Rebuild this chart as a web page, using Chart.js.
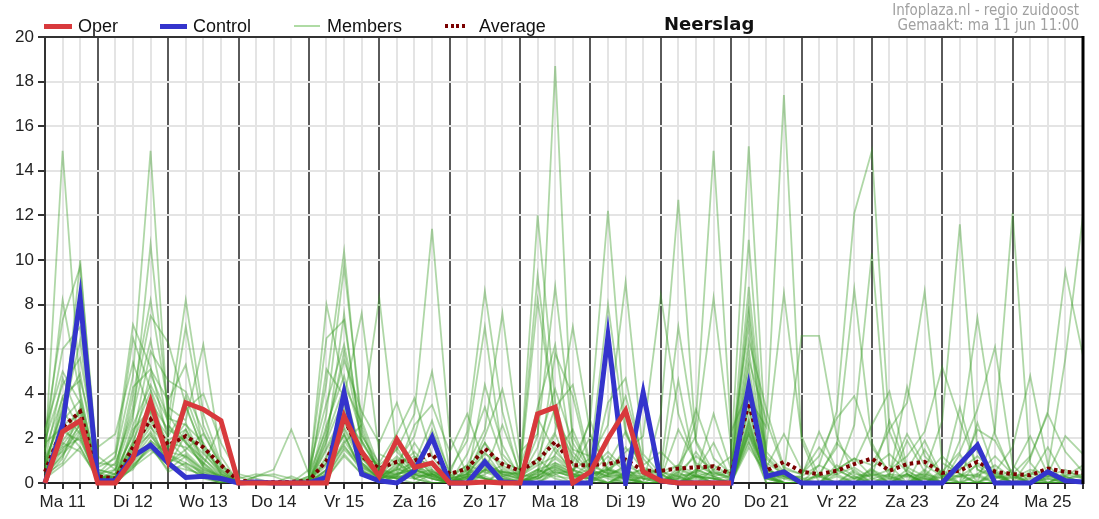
<!DOCTYPE html>
<html>
<head>
<meta charset="utf-8">
<script src="https://cdn.jsdelivr.net/npm/chart.js@4.4.0/dist/chart.umd.min.js"></script>
<style>
  html, body { margin: 0; padding: 0; background: #fff; }
  #wrap { position: relative; width: 1099px; height: 519px; overflow: hidden; }
  #wrap canvas { position: absolute; left: 0; top: 0; }
  .lgText { position: absolute; top: 17px; font: 18px "Liberation Sans", Arial, sans-serif; line-height: 18px; color: #111; white-space: nowrap; }
  .lgLine { position: absolute; }
  #title { position: absolute; left: 664px; top: 15px; font: bold 18px "DejaVu Sans", sans-serif; line-height: 18px; color: #111; }
  .info { position: absolute; right: 20px; font: 15px "DejaVu Sans Condensed", "DejaVu Sans", sans-serif; font-stretch: condensed; line-height: 15px; color: #a0a0a0; white-space: nowrap; }
</style>
</head>
<body>
<div id="wrap">
  <canvas id="chart" width="1099" height="519"></canvas>
  <div class="lgLine" style="left:44px;top:24px;width:28px;height:5px;background:#d8393c;"></div>
  <div class="lgText" style="left:78px;">Oper</div>
  <div class="lgLine" style="left:160px;top:24px;width:27px;height:5px;background:#3434cc;"></div>
  <div class="lgText" style="left:193px;">Control</div>
  <div class="lgLine" style="left:294px;top:25px;width:26px;height:2px;background:rgba(110,190,90,0.55);"></div>
  <div class="lgText" style="left:327px;">Members</div>
  <div class="lgLine" style="left:445px;top:24px;width:20px;height:4px;background:repeating-linear-gradient(to right,#7a0000 0 3px,transparent 3px 5.5px);"></div>
  <div class="lgText" style="left:479px;">Average</div>
  <div id="title">Neerslag</div>
  <div class="info" style="top:3px;">Infoplaza.nl - regio zuidoost</div>
  <div class="info" style="top:18px;">Gemaakt: ma 11 jun 11:00</div>
</div>
<script>
// ---------- Data (6-hourly, Ma 11 06:00 .. Di 26 00:00) ----------
var days = ['Ma 11', 'Di 12', 'Wo 13', 'Do 14', 'Vr 15', 'Za 16', 'Zo 17', 'Ma 18', 'Di 19', 'Wo 20', 'Do 21', 'Vr 22', 'Za 23', 'Zo 24', 'Ma 25', 'Di 26'];
var hours = ['00:00', '06:00', '12:00', '18:00'];
var yTicks = [0, 2, 4, 6, 8, 10, 12, 14, 16, 18, 20];

var oper = [0, 2.3, 2.8,  0, 0, 1.1, 3.65,  1.0, 3.6, 3.3, 2.8,  0, 0, 0, 0,  0, 0, 3.0, 1.4,  0.3, 1.95, 0.7, 0.9,  0, 0, 0.05, 0,  0, 3.1, 3.4, 0,  0.5, 2.0, 3.25, 0.5,  0.1, 0, 0, 0,  0];

var control = [0, 2.6, 8.3,  0.1, 0.1, 1.2, 1.7,  0.9, 0.25, 0.3, 0.2,  0, 0.05, 0, 0,  0, 0.25, 4.05, 0.4,  0.1, 0, 0.55, 2.05,  0, 0, 0.95, 0.05,  0, 0, 0, 0,  0, 6.6, 0, 4.05,  0.1, 0, 0, 0,  0, 4.35, 0.3, 0.5,  0, 0, 0, 0,  0, 0, 0, 0,  0, 0.85, 1.7, 0,  0, 0, 0.5, 0.1,  0.05];

var average = [0.5, 2.5, 3.2,  0.3, 0.2, 1.6, 2.85,  1.7, 2.1, 1.6, 0.8,  0.1, 0.05, 0.05, 0.05,  0.1, 1.0, 2.9, 1.2,  0.65, 0.95, 1.0, 1.3,  0.4, 0.65, 1.55, 0.85,  0.55, 1.0, 1.85, 0.8,  0.8, 0.85, 1.05, 0.55,  0.55, 0.65, 0.7, 0.75,  0.4, 3.6, 0.55, 0.95,  0.5, 0.4, 0.55, 0.85,  1.1, 0.55, 0.85, 0.95,  0.45, 0.55, 0.95, 0.5,  0.4, 0.35, 0.65, 0.5,  0.45];

var members = [
  [1.2,14.9,4.1, 0.3,0,1.2,2.3, 1.1,2.4,0.8,0.2, 0,0,0,0, 0,1.6,3.2,0.9, 0.2,0.4,1.8,0.6, 0,0.3,1.1,0.4, 0,0.5,2.2,0.3, 0.4,1.2,0.5,0, 0,0.2,1.4,0.3, 0,2.6,0.2,0, 0,0,0.8,0.3, 0,0,1.9,0.5, 0,0,0.4,0, 0,0,0.3,0, 0],
  [0.5,2.1,10.0, 0.2,0.1,0.8,1.6, 0.6,1.2,0.4,0, 0,0,0,0, 0,0.4,1.8,2.6, 0.4,0.2,0.5,0.9, 0.2,0,0.6,0.2, 0,0.3,0.8,0.5, 2.1,0.6,0.2,0, 0,0,0.3,0.5, 0.1,3.4,0.3,0.6, 0,0,0,0, 0.4,0,0,1.5, 0.2,0,2.7,0.5, 0,0,0,0.4, 0.2],
  [0.3,1.5,2.6, 0.4,1.2,4.8,14.9, 2.6,1.4,0.6,0.3, 0.1,0,0,0, 0,2.1,4.3,1.1, 0.3,1.1,0.2,0, 0,0.6,0.2,0, 0,0,1.3,2.4, 0.5,0,0,0.3, 0.6,0,0,0, 0,2.2,0.5,0, 0,0.4,0,0, 0,0,0,0.6, 0,1.3,0,0, 0,0.5,0,0, 0],
  [0.9,3.2,2.2, 0.1,0.6,2.9,10.7, 3.1,1.8,1.1,0.4, 0,0,0,0, 0.2,0.9,2.2,0.6, 0.1,0.3,0.9,2.8, 0.4,0,0,0.6, 0.2,1.1,0.4,0, 0,0.9,2.3,0.5, 0,0,0.4,0, 0.2,4.1,0.6,0.3, 0,0,0,0, 0,0.3,0,0, 0.6,0,0,0, 0,0,0.2,0, 0],
  [0.2,1.1,3.4, 0.3,0,1.6,3.2, 2.1,3.4,1.5,0.6, 0,0,0,0, 0.3,4.5,10.4,2.2, 0.6,0.9,0.2,0.4, 0,0.2,1.8,0.7, 0.2,0.6,0.9,0.4, 0.6,0.3,0,0, 0,0.7,0.3,0, 0,2.9,0.2,0.4, 0,0.3,0,0, 0.5,0,0,0, 0,0,0.9,0.4, 0,0,0,0, 0],
  [1.8,2.5,1.6, 0.2,0.4,2.2,4.1, 1.3,0.9,0.5,0.2, 0,0,0,0, 0,0.6,2.7,1.4, 0.8,1.5,3.1,11.4, 2.1,0.4,0.2,0, 0,0,0.5,0.3, 0.2,0,0.4,0.6, 0,0.3,0,0, 0,1.8,0.3,0, 0,0,0.6,0.2, 0,0,0,0, 0,0.4,0,0, 0.3,0,0,0.5, 0.3],
  [0.6,1.9,2.9, 0.2,0.3,1.4,2.5, 1.6,2.7,0.9,0.3, 0,0,0,0, 0,0.3,1.5,0.7, 0.2,0.5,0.3,0.4, 0,0.2,0.6,0.3, 0.5,12.0,3.6,0.8, 0.4,0.6,1.1,0.2, 0,0,0.3,0.2, 0,2.5,0.4,0, 0,0,0,0.3, 0,0,0.4,0, 0,0,0,0.6, 0,0,0,0, 0],
  [1.1,2.8,3.7, 0.1,0.2,0.9,1.8, 0.9,1.5,2.2,0.8, 0,0,0,0, 0,1.2,2.4,0.9, 0.4,0,0.7,0.5, 0.3,0,0.8,0.4, 0.2,2.1,18.7,1.4, 0.5,0.2,0,0, 0.4,0,0.6,0.3, 0,3.3,0.2,0, 0,0,0,0, 0.2,0,0,0.3, 0,0,0,0, 0,0.2,0,0, 0],
  [0.4,0.9,2.3, 0.3,0,0.7,1.3, 1.9,1.1,0.3,0, 0,0,0,0, 0,0.4,3.3,1.2, 0.2,0.4,0.6,0.3, 0,0.5,0.3,0, 0,0.4,1.1,0.5, 2.9,12.2,2.4,0.4, 0,0.3,0,0, 0,1.6,0.4,0.2, 0,0,0,0, 0,0,0,0.4, 0,0,0,0, 0.4,0,0,0, 0],
  [0.7,2.3,1.9, 0.2,0.4,1.8,2.6, 0.7,2.2,1.3,0.5, 0,0,0,0, 0,0.6,1.7,0.5, 0.3,0.6,0.9,0.3, 0,0,0.4,0.8, 0.3,0,0.6,0.4, 0.2,0.7,0.3,0, 3.1,12.7,1.8,0.2, 0,2.2,0,0, 0,0,0,0.5, 0,0.2,0,0, 0,0,0.3,0, 0,0,0.4,0, 0],
  [0.5,1.7,2.8, 0.4,0,1.1,2.1, 1.2,3.9,1.7,0.6, 0,0,0,0, 0.1,0.9,2.1,0.6, 0,0.3,0.4,0.2, 0,0.4,1.4,0.3, 0,0.6,0.3,0.2, 0,0,0.5,0.4, 0,0.4,2.8,14.9, 2.3,4.2,0.3,0, 0,0,0,0, 0,0.4,0,0, 0,0.3,0,0, 0,0,0,0.3, 0],
  [0.3,1.3,2.1, 0.1,0.2,2.4,3.3, 1.8,1.6,0.9,0.2, 0,0,0,0, 0,0.3,2.8,1.9, 0.6,0.2,0,0.4, 0.2,0,0,0.5, 0.1,0.3,0.9,0.6, 0.3,0,0.2,0.7, 0.4,0,0,0.6, 1.2,15.1,1.4,0.5, 0,0,0.3,0, 0,0,0,0, 0.4,0,0,0, 0,0,0.2,0, 0],
  [1.5,3.8,2.4, 0.3,0.1,0.8,1.5, 0.8,0.6,0.4,0.1, 0,0.3,0.4,0.2, 0,0.2,1.2,0.4, 0.1,0.7,0.2,0, 0,0.3,0,0.2, 0,0.2,0.7,0.3, 0.9,0.4,0.2,0, 0,0.6,0.3,0.2, 0.3,10.9,0.8,0, 0,0,0,0.6, 0,0,0.3,0, 0,0,0,0.5, 0,0,0,0, 0],
  [0.8,2.6,3.1, 0.2,0.3,1.3,2.8, 1.4,1.2,0.6,0.2, 0,0,0,0, 0,1.5,2.9,0.8, 0.3,0.2,0.4,0.6, 0,0.7,0.2,0, 0,0.3,1.6,0.4, 0.2,0,0.3,0, 0,0.5,0,0, 0,3.8,2.5,17.4, 1.9,0,0,0, 0,0,0.6,0, 0,0,0,0, 0,0.3,0,0, 0],
  [0.4,1.2,2.7, 0.1,0,1.9,3.6, 2.4,1.9,0.7,0.3, 0,0,0,0, 0,0.8,2.2,0.5, 0.2,0.6,0.5,0.2, 0,0,0.9,0.4, 0.2,0.6,0.2,0, 0,0.4,0.7,0, 0,0,0.4,0, 0,2.1,0.3,0, 0,0.8,3.2,12.1, 14.9,2.3,0.4,0, 0,0,0,0, 0,0,0,0, 0],
  [0.6,1.8,1.4, 0.3,0.2,0.6,1.9, 1.1,0.8,0.2,0, 0,0,0,0, 0,0.5,1.9,0.7, 0.3,0.8,1.2,0.4, 0,0,0.6,0.5, 0.4,0.2,0.6,0.2, 0.5,0.3,0.2,0, 0,0.4,0.3,0, 0,2.7,0.2,0, 0,0,0.4,2.6, 10.3,0.8,0,0.2, 0,0,0,0, 0,0,0,0, 0],
  [0.2,0.8,1.6, 0.1,0.2,1.5,2.2, 0.9,1.3,0.5,0.1, 0,0,0,0, 0,1.1,3.6,0.9, 0.2,0.3,0.2,0.5, 0,0.3,0.2,0, 0.2,0,0.4,0.6, 0,0.6,0.3,0.2, 0,0,0.3,0.2, 0,1.9,0,0, 0,0,0,0, 0,0,0,0.5, 2.8,11.6,1.4,0.3, 0,0,0,0, 0],
  [0.9,1.4,2.4, 0.2,0,0.7,1.7, 0.5,0.9,0.4,0.1, 0,0,0,0, 0,0.2,1.3,0.4, 0,0.4,0.8,0.2, 0,0.3,0.5,0.2, 0,0.3,0.8,0.3, 0.2,0.3,0.4,0, 0,0.2,0,0, 0,2.4,0.3,0, 0,0,0,0, 0.6,0,0,0, 0.3,0,0,2.4, 12.1,0.9,0,0, 0],
  [0.3,2.2,3.3, 0.4,0.2,1.7,2.9, 1.6,2.1,0.7,0.2, 0,0,0,0, 0,0.6,2.5,1.1, 0.4,0.2,0.6,0.3, 0,0.4,0.2,0, 0,0.5,0.7,0.4, 0.3,0,0.4,0.2, 0.3,0,0.2,0, 0,2.8,0.3,0.3, 0,0,0,0, 0,0,0.4,0, 0,0,0,0, 0,0,0.6,5.6, 12.0],
  [0.5,1.6,2.0, 0.2,0.3,1.0,1.9, 1.3,0.7,0.3,0, 0,0,0,0, 0,0.3,1.6,0.8, 0.2,0.9,0.4,0, 0,0.2,0.7,0.3, 0,0.2,0.5,0.3, 0.4,0.5,0.2,0, 0,0.2,0.5,0.2, 0,2.3,0.4,0, 0,0,0,0, 0,0,0,0.3, 0,0,0,0.4, 0,1.1,3.2,9.5, 5.7],
  [1.4,8.2,3.9, 0.5,0.2,2.6,4.4, 2.8,8.2,3.1,0.9, 0,0,0,0, 0,3.1,9.7,2.8, 0.7,0.3,1.1,0.8, 0.4,2.3,8.6,3.2, 0.3,0.8,1.2,0.6, 1.1,2.6,9.0,1.3, 0.4,0,0.6,0.3, 0.5,8.8,1.2,0.4, 0.2,0,0.6,1.1, 0.8,2.4,3.6,8.6, 0.9,0.4,0,0.3, 0,0,0.4,0, 0],
  [2.2,7.3,9.7, 0.8,1.4,7.1,5.2, 1.9,2.4,1.1,0.3, 0,0,0,0, 0.2,8.0,4.4,2.7, 8.3,1.4,0.6,0.3, 0.2,0.4,1.3,0.9, 0.6,9.3,2.7,1.2, 0.4,0.6,1.4,2.1, 8.4,3.1,0.8,0.4, 0.6,8.0,1.1,0.3, 0,0.4,1.6,8.7, 1.8,0.3,0,0.2, 0,1.9,7.4,2.2, 0.3,0,0,0, 0],
  [0.9,3.3,8.4, 0.6,0.4,3.9,8.2, 3.4,2.8,6.2,1.2, 0,0,0,0, 0,1.8,7.6,1.5, 0.3,0.7,1.4,0.5, 0.2,0.8,2.4,7.6, 1.4,2.2,8.8,2.1, 0.6,0.3,0.8,0.4, 0.6,7.0,1.9,0.5, 0.2,4.4,1.6,8.5, 2.1,0.3,0,0.2, 0.6,0.2,0.4,0, 0.5,1.4,3.3,6.1, 0.8,0,0,0.3, 0],
  [1.7,6.0,7.0, 0.9,0.8,3.4,7.5, 6.3,3.5,1.4,0.4, 0,0,0,0, 0.3,6.5,7.3,1.9, 0.5,1.2,0.4,0.2, 0,0.6,1.8,0.5, 0.4,8.2,2.9,1.5, 1.2,8.0,2.2,0.6, 0.3,0.8,2.1,8.3, 1.6,7.0,0.9,0.4, 6.6,6.6,2.1,0.4, 0.3,0.6,1.2,2.3, 5.2,2.8,0.6,0.2, 0.4,0,0.3,0.6, 0.2],
  [2.4,5.0,3.6, 0.7,1.1,6.5,4.2, 2.2,7.0,2.6,0.8, 0.2,0.4,0.3,0, 0,5.1,3.9,7.6, 1.3,0.9,2.1,5.0, 0.6,1.9,7.0,1.3, 0.4,0.9,2.3,7.0, 2.2,0.6,0.4,0.3, 0,0.5,1.2,0.6, 0.2,6.0,0.6,0.3, 0.3,0.8,0.4,0, 0.7,1.3,0.5,0.2, 0,0.6,1.2,0.5, 1.6,4.8,0.8,0, 0],
  [1.9,4.4,5.6, 1.2,0.6,2.1,5.9, 4.6,4.1,2.3,0.7, 0,0.3,0.6,2.4, 0.4,2.4,5.5,3.2, 1.8,3.6,1.2,0.4, 0,1.3,3.4,1.1, 0.2,1.6,4.2,1.8, 0.5,1.8,3.9,1.1, 0.2,2.4,0.9,0.4, 0.3,5.5,2.8,0.6, 0.4,1.2,2.9,3.9, 1.6,0.5,2.2,0.8, 0.3,0.6,2.4,1.9, 0.4,1.2,3.1,1.4, 0.5],
  [0.6,3.9,4.6, 1.6,2.2,5.4,3.1, 1.2,3.3,4.0,1.8, 0.4,0.2,0,0, 0,2.6,4.8,2.1, 0.9,2.2,3.8,1.2, 0.2,0.4,2.1,4.2, 0.8,2.9,1.4,0.6, 0.3,3.6,4.7,0.8, 1.4,0.6,3.3,1.1, 0.4,4.4,0.7,2.2, 0.6,0.3,1.8,0.9, 2.6,4.1,0.7,0.3, 1.2,0.4,0.3,0.8, 0.2,0.6,0.4,2.1, 1.3],
  [0.2,2.9,6.4, 0.4,0.6,4.3,5.1, 3.7,5.3,1.6,0.5, 0,0,0,0, 0.6,3.6,6.2,2.4, 0.3,0.6,2.6,3.5, 1.4,3.1,0.8,0.5, 0.3,0.4,5.8,3.9, 0.6,1.4,0.6,3.8, 0.5,0.8,0.4,3.1, 0.6,6.4,3.3,0.7, 0.4,1.6,0.6,0.2, 0.4,0.3,4.3,1.2, 0.4,0.3,0.8,0.2, 0.6,2.1,0.4,0.3, 0.8],
  [1.0,4.7,2.8, 0.3,0.9,3.1,6.4, 2.6,1.8,0.8,2.6, 0.3,0,0,0, 0,1.9,3.8,1.5, 0.4,1.6,0.3,2.4, 0.5,0.2,4.4,1.7, 0.2,3.4,6.2,0.9, 2.8,0.4,0.6,0.2, 0.2,4.6,0.5,1.8, 0.2,5.2,0.6,0.2, 0.3,2.3,0.6,1.1, 0.3,2.8,0.6,1.9, 0.3,0.3,0.4,1.2, 0.4,0.3,1.6,0.2, 0.4],
  [0.7,3.5,4.9, 0.6,0.4,1.7,4.9, 2.9,2.6,1.8,0.4, 0,0,0,0.3, 0,2.2,5.9,1.8, 0.6,0.4,0.6,0.4, 0.3,0.8,0.5,2.6, 0.5,1.1,3.4,4.4, 0.8,0.4,1.6,0.6, 0.5,0.3,0.5,0.8, 0.3,7.6,0.5,0.4, 0.2,0.3,0.4,0.7, 0.2,0.4,0.3,0.4, 0.2,3.4,0.6,0.3, 0.2,0.4,0.3,0.2, 0.3]
];

// ---------- Categories: one per 6 hours ----------
var labels = [];
for (var i = 0; i < control.length; i++) {
  labels.push(days[Math.floor((i + 1) / 4)] + ' ' + hours[(i + 1) % 4]);
}

// ---------- Datasets ----------
var edge = { left: 5, top: 5, right: 5, bottom: 3 };
var datasets = [
  { label: 'Oper', data: oper, borderColor: '#d8393c', borderWidth: 5, pointRadius: 0, tension: 0, clip: edge },
  { label: 'Control', data: control, borderColor: '#3434cc', borderWidth: 5, pointRadius: 0, tension: 0, clip: edge },
  { label: 'Average', data: average, borderColor: '#7a0000', borderWidth: 4, borderDash: [3.5, 3.5], pointRadius: 0, tension: 0, clip: edge }
];
members.forEach(function (m) {
  datasets.push({ label: 'Members', data: m, borderColor: 'rgba(55,155,35,0.4)', borderWidth: 1.8, pointRadius: 0, tension: 0 });
});

// frame around plot area (top + thick right edge)
var frame = {
  id: 'frame',
  afterDraw: function (chart) {
    var a = chart.chartArea, ctx = chart.ctx;
    ctx.save();
    ctx.strokeStyle = '#333';
    ctx.lineWidth = 2;
    ctx.beginPath();
    ctx.moveTo(a.left, a.top);
    ctx.lineTo(a.right, a.top);
    ctx.stroke();
    ctx.strokeStyle = '#000';
    ctx.lineWidth = 3;
    ctx.beginPath();
    ctx.moveTo(a.right, a.top - 1);
    ctx.lineTo(a.right, a.bottom + 1);
    ctx.stroke();
    ctx.restore();
  }
};

Chart.defaults.font.family = '"Liberation Sans", Arial, sans-serif';

new Chart(document.getElementById('chart'), {
  type: 'line',
  data: { labels: labels, datasets: datasets },
  plugins: [frame],
  options: {
    responsive: false,
    animation: false,
    layout: { padding: { top: 37, right: 16, left: 0, bottom: 0 } },
    plugins: { legend: { display: false }, tooltip: { enabled: false } },
    scales: {
      x: {
        type: 'category',
        offset: false,
        afterFit: function (scale) { scale.height = 36; },
        grid: {
          color: function (c) { return (c.index + 1) % 4 === 0 ? '#5a5a5a' : '#e4e4e4'; },
          lineWidth: 2,
          tickColor: '#333',
          tickLength: 6
        },
        border: { display: true, color: '#222', width: 2 },
        ticks: {
          autoSkip: false,
          maxRotation: 0,
          minRotation: 0,
          padding: 3,
          color: '#222',
          font: { size: 17 },
          callback: function (value, index) {
            return (index + 1) % 4 === 2 ? days[Math.floor((index + 1) / 4)] : '';
          }
        }
      },
      y: {
        min: yTicks[0],
        max: yTicks[yTicks.length - 1],
        afterFit: function (scale) { scale.width = 45; },
        afterBuildTicks: function (scale) { scale.ticks = yTicks.map(function (v) { return { value: v }; }); },
        grid: { color: '#e4e4e4', lineWidth: 2, tickColor: '#333', tickLength: 7 },
        border: { display: true, color: '#333', width: 2 },
        ticks: { padding: 4, color: '#222', font: { size: 17 } }
      }
    }
  }
});
</script>
</body>
</html>
